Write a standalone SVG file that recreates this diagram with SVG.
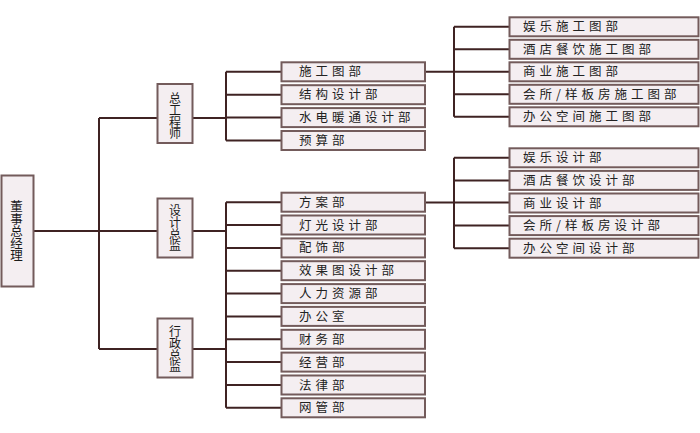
<svg xmlns="http://www.w3.org/2000/svg" width="700" height="433" viewBox="0 0 700 433">
<style>
.bx{fill:#f4eef1;stroke:#735b5b;stroke-width:2}
.ln{fill:none;stroke:#3f2323;stroke-width:2}
.t{font-family:"Noto Sans CJK SC","Noto Sans",sans-serif;font-size:12.5px;fill:#222;letter-spacing:4px}
.v{font-family:"Noto Sans CJK SC","Noto Sans",sans-serif;font-size:12px;fill:#1a1a1a;text-anchor:middle;writing-mode:vertical-rl;letter-spacing:-0.4px}
</style>
<rect width="700" height="433" fill="#ffffff"/>
<g id="connectors">
<path class="ln" d="M34 231H157M99 118V349M99 118H157M99 349H157"/>
<path class="ln" d="M193 118H226M226 71.8V140.5M226 71.8H281M226 94.7H281M226 117.6H281M226 140.5H281"/>
<path class="ln" d="M193 231H226M193 349H226M226 202.2V407.8M226 202.2H281M226 225H281M226 247.9H281M226 270.7H281M226 293.6H281M226 316.4H281M226 339.3H281M226 362.1H281M226 385H281M226 407.8H281"/>
<path class="ln" d="M425 71.8H454M454 26.8V116.8M454 26.8H509M454 49.3H509M454 71.8H509M454 94.3H509M454 116.8H509"/>
<path class="ln" d="M425 202.5H454M454 157.8V248.2M454 157.8H509M454 180.4H509M454 202.5H509M454 225.6H509M454 248.2H509"/>
</g>
<g id="n-root"><rect class="bx" x="1.5" y="175.5" width="32" height="111"/>
<text class="v" x="16.5" y="231" style="font-size:12.5px;letter-spacing:-0.2px">董事总经理</text></g>
<g id="n-chief-eng"><rect class="bx" x="157.5" y="84" width="35" height="59"/>
<text class="v" x="175" y="116">总工程师</text></g>
<g id="n-design-dir"><rect class="bx" x="157.5" y="198.5" width="35" height="59"/>
<text class="v" x="175" y="228">设计总监</text></g>
<g id="n-admin-dir"><rect class="bx" x="157.5" y="318.5" width="35" height="59"/>
<text class="v" x="175" y="349">行政总监</text></g>
<g id="n-sgt"><rect class="bx" x="281.5" y="62.3" width="143.5" height="19"/><text class="t" x="299" y="76.3">施工图部</text></g>
<g id="n-jg"><rect class="bx" x="281.5" y="85.2" width="143.5" height="19"/><text class="t" x="299" y="99.2">结构设计部</text></g>
<g id="n-sd"><rect class="bx" x="281.5" y="108.1" width="143.5" height="19"/><text class="t" x="299" y="122.1">水电暖通设计部</text></g>
<g id="n-ys"><rect class="bx" x="281.5" y="131" width="143.5" height="19"/><text class="t" x="299" y="145">预算部</text></g>
<g id="n-fa"><rect class="bx" x="281.5" y="192.7" width="143.5" height="19"/><text class="t" x="299" y="206.7">方案部</text></g>
<g id="n-dg"><rect class="bx" x="281.5" y="215.5" width="143.5" height="19"/><text class="t" x="299" y="229.5">灯光设计部</text></g>
<g id="n-ps"><rect class="bx" x="281.5" y="238.4" width="143.5" height="19"/><text class="t" x="299" y="252.4">配饰部</text></g>
<g id="n-xgt"><rect class="bx" x="281.5" y="261.2" width="143.5" height="19"/><text class="t" x="299" y="275.2">效果图设计部</text></g>
<g id="n-rl"><rect class="bx" x="281.5" y="284.1" width="143.5" height="19"/><text class="t" x="299" y="298.1">人力资源部</text></g>
<g id="n-bgs"><rect class="bx" x="281.5" y="306.9" width="143.5" height="19"/><text class="t" x="299" y="320.9">办公室</text></g>
<g id="n-cw"><rect class="bx" x="281.5" y="329.8" width="143.5" height="19"/><text class="t" x="299" y="343.8">财务部</text></g>
<g id="n-jy"><rect class="bx" x="281.5" y="352.6" width="143.5" height="19"/><text class="t" x="299" y="366.6">经营部</text></g>
<g id="n-fl"><rect class="bx" x="281.5" y="375.5" width="143.5" height="19"/><text class="t" x="299" y="389.5">法律部</text></g>
<g id="n-wg"><rect class="bx" x="281.5" y="398.3" width="143.5" height="19"/><text class="t" x="299" y="412.3">网管部</text></g>
<g id="n-c1"><rect class="bx" x="509.5" y="17.3" width="189" height="19"/><text class="t" x="523" y="31.3">娱乐施工图部</text></g>
<g id="n-c2"><rect class="bx" x="509.5" y="39.8" width="189" height="19"/><text class="t" x="523" y="53.8">酒店餐饮施工图部</text></g>
<g id="n-c3"><rect class="bx" x="509.5" y="62.3" width="189" height="19"/><text class="t" x="523" y="76.3">商业施工图部</text></g>
<g id="n-c4"><rect class="bx" x="509.5" y="84.8" width="189" height="19"/><text class="t" x="523" y="98.8">会所/样板房施工图部</text></g>
<g id="n-c5"><rect class="bx" x="509.5" y="107.3" width="189" height="19"/><text class="t" x="523" y="121.3">办公空间施工图部</text></g>
<g id="n-d1"><rect class="bx" x="509.5" y="148.3" width="189" height="19"/><text class="t" x="523" y="162.3">娱乐设计部</text></g>
<g id="n-d2"><rect class="bx" x="509.5" y="170.9" width="189" height="19"/><text class="t" x="523" y="184.9">酒店餐饮设计部</text></g>
<g id="n-d3"><rect class="bx" x="509.5" y="193.5" width="189" height="19"/><text class="t" x="523" y="207.5">商业设计部</text></g>
<g id="n-d4"><rect class="bx" x="509.5" y="216.1" width="189" height="19"/><text class="t" x="523" y="230.1">会所/样板房设计部</text></g>
<g id="n-d5"><rect class="bx" x="509.5" y="238.7" width="189" height="19"/><text class="t" x="523" y="252.7">办公空间设计部</text></g>
</svg>
